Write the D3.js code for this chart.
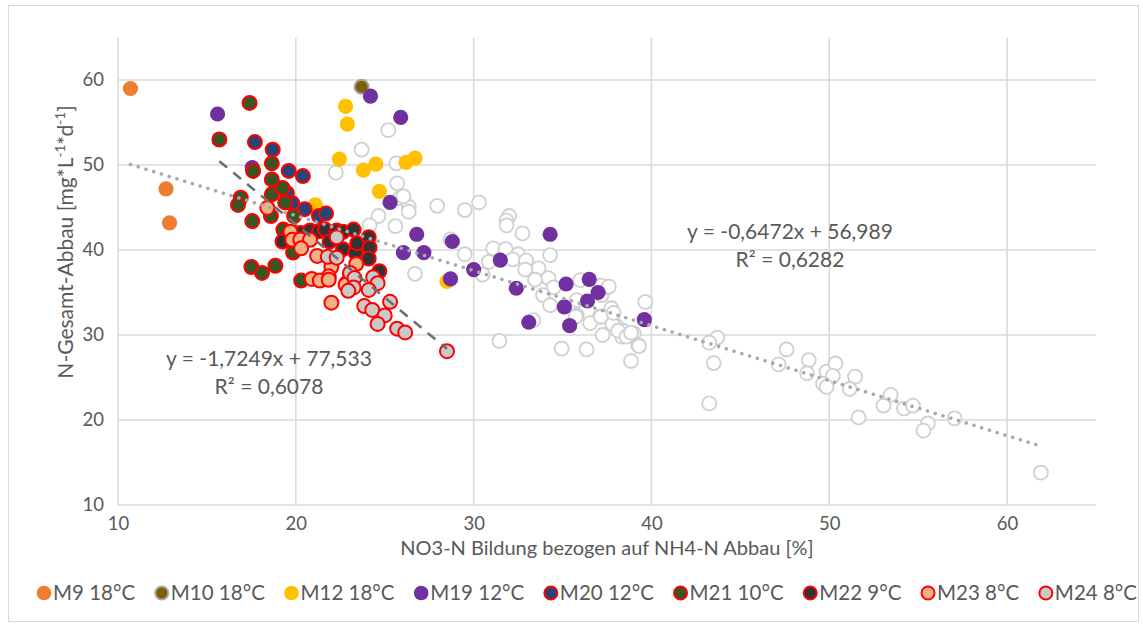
<!DOCTYPE html>
<html>
<head>
<meta charset="utf-8">
<script src="https://cdn.jsdelivr.net/npm/d3@7"></script>
<style>
  html, body { margin: 0; padding: 0; background: #fff; }
  svg { display: block; }
  text { font-family: Lato, "Open Sans", sans-serif; fill: #595959; }
</style>
</head>
<body>
<svg id="chart" width="1143" height="628"></svg>
<script>
// Axis ticks
const xTicks = [10, 20, 30, 40, 50, 60];
const yTicks = [10, 20, 30, 40, 50, 60];

// Measurement series: [NO3-N Bildung %, N-Gesamt-Abbau mg/(L*d)]
const m9 = [[10.7, 59.0], [12.7, 47.2], [12.9, 43.2]];
const m10 = [[23.7, 59.2]];
const m12 = [[22.8, 56.9], [22.9, 54.8], [22.45, 50.7], [23.8, 49.4], [24.5, 50.1],
  [26.2, 50.3], [26.7, 50.8], [24.7, 46.9], [21.1, 45.3], [28.5, 36.3]];
const m19 = [[15.6, 56.0], [17.55, 49.7], [24.2, 58.1], [25.9, 55.6], [25.3, 45.6],
  [26.8, 41.85], [28.8, 41.0], [26.05, 39.7], [27.2, 39.7], [34.3, 41.85], [31.5, 38.8],
  [30.0, 37.7], [28.7, 36.6], [32.4, 35.5], [35.2, 36.0], [36.5, 36.55], [37.0, 35.0],
  [36.4, 34.0], [35.1, 33.3], [33.1, 31.5], [35.4, 31.1], [39.6, 31.8]];
const m20 = [[17.7, 52.7], [18.7, 51.8], [19.6, 49.3], [20.4, 48.7], [19.5, 46.7],
  [19.8, 45.5], [20.5, 44.8], [21.3, 44.0], [21.7, 44.3]];
const m21 = [[17.4, 57.3], [15.7, 53.0], [17.6, 49.3], [18.65, 50.2], [18.65, 48.3],
  [18.65, 46.55], [19.25, 47.3], [19.4, 45.6], [16.9, 46.15], [16.75, 45.3], [17.55, 43.4],
  [18.6, 44.0], [19.9, 44.0], [19.3, 42.4], [19.95, 42.0], [17.5, 38.0], [18.1, 37.3],
  [18.85, 38.15], [19.85, 39.7], [20.3, 36.4]];
const m22 = [[19.25, 41.0], [20.3, 42.0], [20.8, 42.3], [21.3, 42.2], [21.65, 42.4],
  [21.9, 41.0], [22.3, 42.3], [22.65, 40.1], [22.65, 42.15], [23.25, 42.4], [23.35, 39.7],
  [23.45, 40.8], [24.1, 41.5], [24.15, 40.3], [24.1, 39.0], [24.7, 37.5], [20.4, 40.9]];
const m23 = [[18.4, 44.95], [19.7, 42.15], [19.8, 41.2], [20.25, 41.25], [20.8, 41.2],
  [20.3, 40.2], [21.2, 39.3], [22.0, 38.0], [21.85, 36.9], [20.9, 36.6], [21.35, 36.4],
  [21.85, 36.5], [22.0, 33.8], [23.05, 37.1], [22.85, 36.1], [23.4, 38.35], [22.8, 35.9]];
const m24 = [[22.3, 41.5], [21.8, 39.2], [22.3, 39.1], [23.05, 37.3], [23.3, 36.7],
  [24.35, 36.8], [24.6, 36.1], [23.25, 35.6], [22.95, 35.2], [24.1, 35.3], [25.3, 33.9],
  [23.85, 33.4], [24.3, 32.95], [25.0, 32.3], [24.6, 31.3], [25.7, 30.75], [26.15, 30.3],
  [28.5, 28.1]];
// Further measurements (no legend entry)
const others = [[25.2, 54.1], [23.7, 51.8], [22.25, 49.1], [25.65, 50.2], [25.7, 47.85],
  [25.85, 46.1], [26.35, 45.1], [27.95, 45.2], [29.5, 44.7], [24.65, 44.0], [30.3, 45.6],
  [26.05, 46.3], [24.15, 42.9], [25.6, 42.8], [26.35, 44.5], [32.0, 44.0], [31.85, 43.45],
  [31.85, 42.9], [32.75, 41.95], [28.7, 41.25], [29.5, 39.5], [31.1, 40.2], [31.8, 40.1],
  [32.5, 39.5], [32.2, 38.9], [32.95, 38.75], [34.3, 39.4], [30.85, 38.6], [33.65, 37.85],
  [32.9, 37.7], [30.5, 37.1], [26.7, 37.2], [34.2, 36.7], [33.45, 36.5], [34.5, 35.6],
  [36.0, 36.45], [33.9, 34.7], [34.3, 33.5], [35.8, 34.1], [35.8, 32.35], [37.2, 34.7],
  [37.5, 35.6], [37.1, 32.15], [37.75, 33.15], [38.05, 31.0], [38.4, 30.5], [39.0, 30.2],
  [39.25, 28.8], [39.65, 33.9], [33.35, 31.75], [31.45, 29.3], [34.95, 28.4], [36.35, 28.3],
  [37.25, 30.0], [38.35, 29.8], [36.55, 31.4], [38.85, 26.94], [39.3, 28.7], [37.8, 31.3],
  [38.13, 30.5], [38.6, 29.8], [38.85, 30.27], [37.16, 32.15], [37.87, 32.6], [35.74, 32.15],
  [37.16, 35.8], [37.6, 35.7], [43.7, 29.7], [43.25, 29.1], [43.5, 26.7], [43.25, 21.95],
  [47.6, 28.3], [47.15, 26.55], [48.85, 27.05], [48.75, 25.5], [49.85, 25.7], [50.35, 26.65],
  [50.2, 25.2], [49.65, 24.25], [49.85, 23.9], [51.45, 25.1], [51.15, 23.65], [51.65, 20.3],
  [53.45, 22.95], [53.05, 21.7], [54.2, 21.35], [54.7, 21.7], [55.55, 19.6], [55.3, 18.75],
  [57.05, 20.2], [61.9, 13.8]];

// Linear trends (slope, intercept, x-range) and their labels
const trendAll = { slope: -0.6472, intercept: 56.989, x0: 10.7, x1: 61.9 };
const trendCold = { slope: -1.7249, intercept: 77.533, x0: 15.7, x1: 28.5 };
const trendAllLabel = ["y = -0,6472x + 56,989", "R² = 0,6282"];
const trendColdLabel = ["y = -1,7249x + 77,533", "R² = 0,6078"];

// Series appearance, in drawing order
const series = [
  { data: others, name: null,        fill: "#ffffff", stroke: "#d0d0d0", sw: 1.8, r: 7 },
  { data: m9,     name: "M9 18°C",   fill: "#ED7D31", stroke: "none",    sw: 0,   r: 7.6 },
  { data: m10,    name: "M10 18°C",  fill: "#7F6000", stroke: "#a5a5a5", sw: 2,   r: 7 },
  { data: m12,    name: "M12 18°C",  fill: "#FFC000", stroke: "none",    sw: 0,   r: 7.6 },
  { data: m19,    name: "M19 12°C",  fill: "#7030A0", stroke: "none",    sw: 0,   r: 7.6 },
  { data: m20,    name: "M20 12°C",  fill: "#264478", stroke: "#ff0000", sw: 2,   r: 7 },
  { data: m21,    name: "M21 10°C",  fill: "#375623", stroke: "#ff0000", sw: 2,   r: 7 },
  { data: m22,    name: "M22 9°C",   fill: "#333333", stroke: "#ff0000", sw: 2,   r: 7 },
  { data: m23,    name: "M23 8°C",   fill: "#F4B183", stroke: "#ff0000", sw: 2,   r: 7 },
  { data: m24,    name: "M24 8°C",   fill: "#C9C9C9", stroke: "#ff0000", sw: 2,   r: 7 }
];

const svg = d3.select("#chart");
const plot = { left: 118, right: 1096, top: 37.5, bottom: 505 };

const x = d3.scaleLinear().domain([10, 65]).range([plot.left, plot.right]);
const y = d3.scaleLinear().domain([10, 65]).range([plot.bottom, plot.top]);

// Chart frame
svg.append("rect")
  .attr("x", 8.5).attr("y", 5.5).attr("width", 1130).attr("height", 616)
  .attr("fill", "#fff").attr("stroke", "#d9d9d9").attr("stroke-width", 1);

// Gridlines
const grid = svg.append("g");
grid.selectAll("line.v").data(xTicks).join("line")
  .attr("x1", d => x(d)).attr("x2", d => x(d))
  .attr("y1", plot.top).attr("y2", plot.bottom)
  .attr("stroke", "#d9d9d9").attr("stroke-width", 1.5);
grid.selectAll("line.h").data(yTicks).join("line")
  .attr("x1", plot.left).attr("x2", plot.right)
  .attr("y1", d => y(d)).attr("y2", d => y(d))
  .attr("stroke", "#d9d9d9").attr("stroke-width", 1.5);

// Axes (labels only)
const xAxis = svg.append("g").attr("transform", `translate(0,${plot.bottom + 12})`)
  .call(d3.axisBottom(x).tickValues(xTicks).tickSize(0).tickPadding(0));
const yAxis = svg.append("g").attr("transform", `translate(${plot.left - 14},0)`)
  .call(d3.axisLeft(y).tickValues(yTicks).tickSize(0).tickPadding(0));
[xAxis, yAxis].forEach(g => {
  g.select(".domain").remove();
  g.selectAll("text").attr("font-size", 18.5).attr("fill", "#595959")
    .attr("font-family", "Lato, 'Open Sans', sans-serif");
});

// Axis titles
svg.append("text")
  .attr("x", (plot.left + plot.right) / 2).attr("y", 555)
  .attr("text-anchor", "middle").attr("font-size", 20)
  .text("NO3-N Bildung bezogen auf NH4-N Abbau [%]");

const yt = svg.append("text")
  .attr("transform", "translate(73,242) rotate(-90)")
  .attr("text-anchor", "middle").attr("font-size", 21);
yt.append("tspan").text("N-Gesamt-Abbau [mg*L");
yt.append("tspan").attr("dy", -8).attr("font-size", 13.5).text("-1");
yt.append("tspan").attr("dy", 8).text("*d");
yt.append("tspan").attr("dy", -8).attr("font-size", 13.5).text("-1");
yt.append("tspan").attr("dy", 8).text("]");

// Markers
series.forEach(s => {
  svg.append("g").selectAll("circle").data(s.data).join("circle")
    .attr("cx", d => x(d[0])).attr("cy", d => y(d[1])).attr("r", s.r)
    .attr("fill", s.fill).attr("stroke", s.stroke).attr("stroke-width", s.sw);
});

// Trendlines
const line = d3.line().x(d => x(d[0])).y(d => y(d[1]));
const trendPts = t => [[t.x0, t.slope * t.x0 + t.intercept], [t.x1, t.slope * t.x1 + t.intercept]];
svg.append("path").attr("d", line(trendPts(trendAll)))
  .attr("fill", "none").attr("stroke", "#a9a9a9").attr("stroke-width", 3.5)
  .attr("stroke-linecap", "round").attr("stroke-dasharray", "0.1 8");
svg.append("path").attr("d", line(trendPts(trendCold)))
  .attr("fill", "none").attr("stroke", "#6f6f6f").attr("stroke-width", 2.6)
  .attr("stroke-dasharray", "10 8");

// Trend equations
function eqLabel(lines, cx, y0) {
  lines.forEach((t, i) => {
    svg.append("text").attr("x", cx).attr("y", y0 + i * 28)
      .attr("text-anchor", "middle").attr("font-size", 21).text(t);
  });
}
eqLabel(trendAllLabel, 790, 239);
eqLabel(trendColdLabel, 269, 366);

// Legend: items spread between the two outer edges
const legend = svg.append("g");
const items = series.filter(s => s.name);
const placed = items.map(s => {
  const g = legend.append("g");
  g.append("circle").attr("cx", 7).attr("cy", 0).attr("r", s.stroke === "none" ? 7.3 : 6.5)
    .attr("fill", s.fill).attr("stroke", s.stroke).attr("stroke-width", s.sw);
  const t = g.append("text").attr("x", 16).attr("y", 7).attr("font-size", 20.5).text(s.name);
  return { g, w: 16 + t.node().getComputedTextLength() };
});
const legLeft = 37, legRight = 1137;
const gap = (legRight - legLeft - d3.sum(placed, p => p.w)) / (placed.length - 1);
let cursor = legLeft;
placed.forEach(p => {
  p.g.attr("transform", `translate(${cursor},593)`);
  cursor += p.w + gap;
});
</script>
</body>
</html>
